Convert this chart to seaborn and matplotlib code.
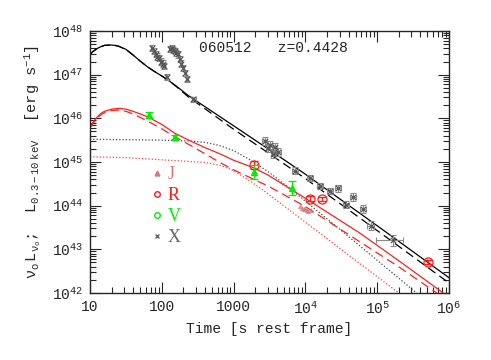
import numpy as np
import matplotlib
matplotlib.use('Agg')
import matplotlib.pyplot as plt
import seaborn as sns
from matplotlib.lines import Line2D
from matplotlib.ticker import LogLocator, NullFormatter

# ---- data ----
# X-ray (0.3-10 keV) luminosity, with errors in dex
xray_t = [72, 77, 82, 87, 92, 97, 103, 108, 117, 130, 138, 145, 152, 160, 168, 178, 188, 200, 212, 225, 270,
          2700, 3000, 3200, 3500, 3800, 4200, 7200, 11500, 15800, 21800, 28700, 36700, 46500, 64000, 81500, 165000]
xray_L = [4.0e47, 3.5e47, 3.0e47, 2.6e47, 2.4e47, 2.0e47, 1.8e47, 1.6e47, 9.0e46, 3.8e47, 4.0e47, 3.6e47, 3.5e47,
          3.2e47, 2.9e47, 2.3e47, 1.8e47, 1.4e47, 1.1e47, 8.0e46, 2.7e46,
          3.0e45, 2.1e45, 2.4e45, 1.5e45, 2.2e45, 1.7e45, 6.3e44, 4.3e44, 2.8e44, 2.2e44, 2.5e44, 1.05e44, 1.6e44,
          8.3e43, 3.5e43, 1.6e43]
xray_tlo = [0.01] * 21 + [0.03, 0.03, 0.03, 0.03, 0.03, 0.03, 0.04, 0.04, 0.04, 0.04, 0.04, 0.04, 0.04, 0.04, 0.05, 0.23]
xray_thi = [0.01] * 20 + [0.04] + [0.03, 0.03, 0.03, 0.03, 0.03, 0.03, 0.04, 0.04, 0.04, 0.04, 0.04, 0.04, 0.04, 0.04, 0.05, 0.14]
xray_dL = [0.07] * 20 + [0.05] + [0.09, 0.09, 0.09, 0.09, 0.09, 0.09, 0.08, 0.08, 0.07, 0.07, 0.08, 0.08, 0.09, 0.09, 0.11, 0.12]

# R band
r_t = [1950, 11500, 17000, 515000]
r_L = [8.5e44, 1.45e44, 1.4e44, 5.2e42]
r_dL = [0.09, 0.05, 0.05, 0.05]

# V band
v_t = [66, 152, 1950, 6600]
v_L = [1.2e46, 3.7e45, 5.9e44, 2.6e44]
v_dL = [0.07, 0.04, 0.16, 0.16]

# J band
j_t = [8500, 9000, 9500, 10000, 10500, 11000, 11800]
j_L = [1.0e44, 9.0e43, 8.5e43, 9.0e43, 8.0e43, 7.5e43, 8.0e43]

# model curves, read as (log t, log L)
bk_solid_logt = [1.0, 1.05, 1.1, 1.15, 1.2, 1.29, 1.35, 1.4, 1.5, 1.6, 1.7, 1.8, 1.9, 2.0, 2.1, 2.2, 2.37,
                 3.0, 3.48, 4.0, 5.0, 6.0]
bk_solid_logL = [47.47, 47.54, 47.60, 47.64, 47.67, 47.68, 47.67, 47.65, 47.58, 47.45, 47.31, 47.18, 47.07,
                 46.97, 46.86, 46.74, 46.52, 45.83, 45.30, 44.72, 43.54, 42.35]
bk_dash_logt = [1.0, 1.05, 1.1, 1.15, 1.2, 1.29, 1.35, 1.4, 1.5, 1.6, 1.7, 1.8, 1.9, 2.0, 2.1, 2.2, 2.37,
                3.0, 3.48, 4.0, 5.0, 6.0]
bk_dash_logL = [47.47, 47.54, 47.60, 47.64, 47.67, 47.68, 47.67, 47.65, 47.58, 47.45, 47.31, 47.18, 47.07,
                46.97, 46.86, 46.73, 46.49, 45.75, 45.21, 44.62, 43.43, 42.23]
bk_dot_logt = [1.0, 2.0, 2.4, 2.6, 2.8, 3.0, 3.2, 3.48, 3.81, 4.5, 5.55]
bk_dot_logL = [45.52, 45.50, 45.48, 45.45, 45.38, 45.26, 45.08, 44.78, 44.36, 43.43, 42.0]

rd_solid_logt = [1.0, 1.05, 1.1, 1.15, 1.2, 1.3, 1.41, 1.5, 1.6, 1.7, 1.81, 2.0, 2.18, 2.4, 2.6, 2.82, 3.0,
                 3.29, 3.48, 4.0, 4.76, 5.3, 5.92]
rd_solid_logL = [45.81, 45.93, 46.03, 46.11, 46.16, 46.21, 46.23, 46.21, 46.16, 46.10, 46.03, 45.86, 45.66,
                 45.48, 45.33, 45.18, 45.04, 44.86, 44.70, 44.17, 43.37, 42.74, 42.0]
rd_dash_logt = [1.0, 1.05, 1.1, 1.15, 1.2, 1.3, 1.41, 1.5, 1.6, 1.7, 1.81, 2.0, 2.18, 2.4, 2.6, 2.82, 3.0,
                3.48, 4.0, 4.76, 5.3, 5.83]
rd_dash_logL = [45.78, 45.90, 46.00, 46.08, 46.13, 46.18, 46.19, 46.16, 46.10, 46.02, 45.93, 45.76, 45.58,
                45.38, 45.19, 44.98, 44.82, 44.45, 43.98, 43.17, 42.60, 42.0]
rd_dot_logt = [1.0, 1.5, 1.9, 2.2, 2.6, 2.8, 2.95, 3.1, 3.25, 3.4, 4.0, 5.3]
rd_dot_logL = [45.12, 45.10, 45.06, 45.03, 44.99, 44.93, 44.84, 44.70, 44.54, 44.37, 43.62, 42.0]

xtick_vals = [10, 100, 1000, 1e4, 1e5, 1e6]
xtick_labels = ['10', '100', '1000', '10$^4$', '10$^5$', '10$^6$']
ytick_vals = [1e42, 1e43, 1e44, 1e45, 1e46, 1e47, 1e48]
ytick_labels = ['10$^{42}$', '10$^{43}$', '10$^{44}$', '10$^{45}$', '10$^{46}$', '10$^{47}$', '10$^{48}$']

sns.set_style('ticks')
plt.rcParams['font.family'] = ['Liberation Mono', 'DejaVu Sans']
plt.rcParams['mathtext.fontset'] = 'custom'
plt.rcParams['mathtext.rm'] = 'Liberation Mono'
plt.rcParams['mathtext.it'] = 'Liberation Serif:italic'
plt.rcParams['mathtext.default'] = 'regular'

fig = plt.figure(figsize=(4.91, 3.6), dpi=100)
ax = fig.add_axes([90 / 491, 1 - 293 / 360, 359 / 491, 262 / 360])
ax.set_xscale('log')
ax.set_yscale('log')


def dex_err(vals, lo, hi):
    vals = np.asarray(vals, float)
    return [vals * (1 - 10 ** -np.asarray(lo)), vals * (10 ** np.asarray(hi) - 1)]


# curves
curves = [
    (bk_solid_logt, bk_solid_logL, 'black', '-'),
    (bk_dash_logt, bk_dash_logL, 'black', (0, (7, 4))),
    (bk_dot_logt, bk_dot_logL, '#444444', (0, (1, 1.6))),
    (rd_solid_logt, rd_solid_logL, '#ff2020', '-'),
    (rd_dash_logt, rd_dash_logL, '#ff2020', (0, (7, 4))),
    (rd_dot_logt, rd_dot_logL, '#ff4040', (0, (1, 1.6))),
]
for lt, lL, c, ls in curves:
    sns.lineplot(x=10 ** np.asarray(lt), y=10 ** np.asarray(lL), ax=ax, color=c, lw=0.9, linestyle=ls,
                 estimator=None, sort=False)

# X-ray data
ax.errorbar(xray_t, xray_L, xerr=dex_err(xray_t, xray_tlo, xray_thi), yerr=dex_err(xray_L, xray_dL, xray_dL),
            fmt='none', ecolor='#8a8a8a', elinewidth=0.8, capsize=2.5, capthick=0.8, zorder=3)
sns.scatterplot(x=xray_t, y=xray_L, ax=ax, marker='x', color='#555555', s=14, linewidth=0.9, zorder=4)

# J band
sns.scatterplot(x=j_t, y=j_L, ax=ax, marker='^', color='#d47a7a', s=14, linewidth=0, alpha=0.8, zorder=4)

# R band
ax.errorbar(r_t, r_L, yerr=dex_err(r_L, r_dL, r_dL), fmt='o', mfc='none', mec='#ff1a1a', ms=6.5, mew=0.9,
            ecolor='#ff1a1a', elinewidth=0.8, capsize=3, capthick=0.8, zorder=5)

# V band
ax.errorbar(v_t, v_L, yerr=dex_err(v_L, v_dL, v_dL), fmt='^', color='#00ee00', ms=4.5,
            ecolor='#00ee00', elinewidth=0.9, capsize=3, capthick=0.9, zorder=6)

ax.set_xlim(10, 1e6)
ax.set_ylim(1e42, 1e48)
ax.set_xticks(xtick_vals)
ax.set_xticklabels(xtick_labels)
ax.set_yticks(ytick_vals)
ax.set_yticklabels(ytick_labels)
for axis in (ax.xaxis, ax.yaxis):
    axis.set_minor_locator(LogLocator(base=10, subs=np.arange(2, 10), numticks=100))
    axis.set_minor_formatter(NullFormatter())
ax.tick_params(which='both', direction='in', top=True, right=True, labelsize=10.5, width=0.8)
ax.tick_params(which='major', length=8, pad=5)
ax.tick_params(which='minor', length=4)
for sp in ax.spines.values():
    sp.set_linewidth(1.0)

ax.set_xlabel('Time [s rest frame]', fontsize=10.5, labelpad=4)
ax.set_ylabel(r'$\nu_{\rm o}\,L_{\nu_{\rm o}}$;  L$_{0.3-10\ \rm keV}$  [erg s$^{-1}$]', fontsize=11, labelpad=6)

ax.text(0.305, 0.935, '060512   z=0.4428', transform=ax.transAxes, fontsize=10.5, ha='left', va='center')

handles = [
    Line2D([], [], marker='^', ls='none', color='#d47a7a', ms=3.5),
    Line2D([], [], marker='o', ls='none', mfc='none', mec='#ff1a1a', ms=4),
    Line2D([], [], marker='o', ls='none', mfc='none', mec='#00ee00', ms=4),
    Line2D([], [], marker='x', ls='none', color='#666666', ms=3.5),
]
leg = ax.legend(handles, ['J', 'R', 'V', 'X'], loc='upper left', bbox_to_anchor=(0.125, 0.545), frameon=False,
                handlelength=0.6, handletextpad=0.3, labelspacing=0.22,
                labelcolor=['#d47a7a', '#ff1a1a', '#00ee00', '#666666'],
                prop={'family': 'Liberation Serif', 'size': 13})

fig.savefig('out.png', dpi=100)
